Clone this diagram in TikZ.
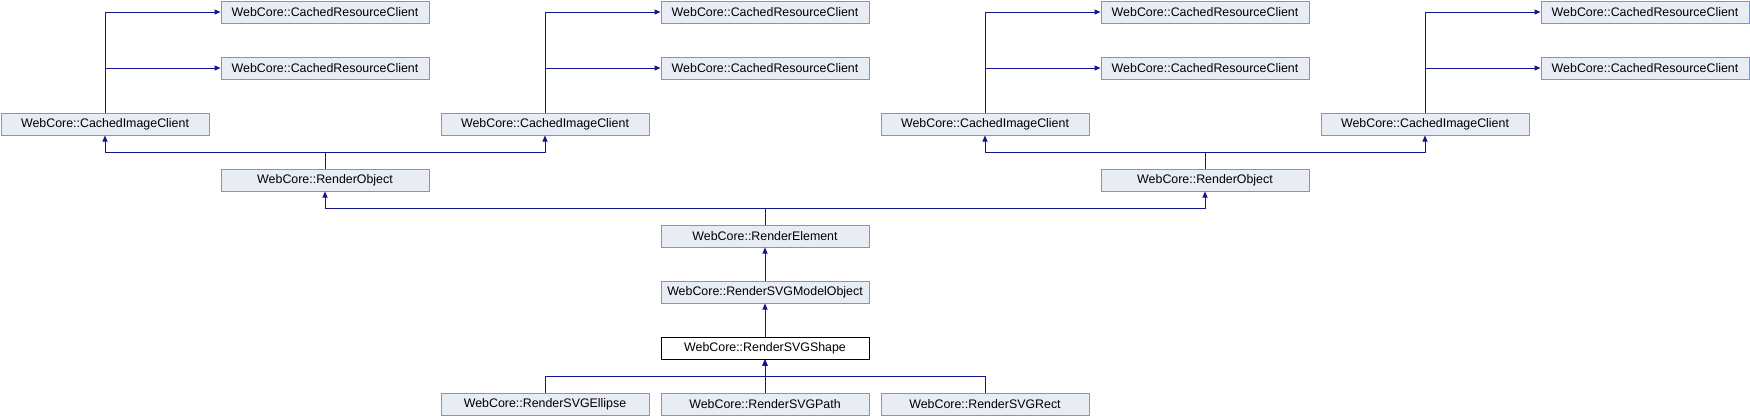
\documentclass[tikz,border=0pt]{standalone}
\usepackage{fontspec}
\setmainfont{Liberation Sans}
\usetikzlibrary{arrows.meta}
\definecolor{fillc}{HTML}{E8ECF4}
\definecolor{bordc}{HTML}{7C96CA}
\definecolor{edgec}{HTML}{14148C}
\tikzset{
  cls/.style={draw=bordc, fill=fillc, line width=1pt, minimum width=208pt, minimum height=22pt,
    inner sep=0pt, anchor=north west, font=\fontsize{12.4}{14}\selectfont},
  cur/.style={cls, draw=black, fill=white},
  edge/.style={draw=edgec, line width=1pt, -{Triangle[length=6pt,width=5pt]}}
}
\begin{document}
\begin{tikzpicture}[x=1pt,y=-1pt]
\useasboundingbox (0,0) rectangle (1750,416);
% row 0 and 1: CachedResourceClient
\node[cls] (crcA0) at (220.5,0.5) {WebCore::CachedResourceClient};
\node[cls] (crcA1) at (220.5,56.5) {WebCore::CachedResourceClient};
\node[cls] (crcB0) at (660.5,0.5) {WebCore::CachedResourceClient};
\node[cls] (crcB1) at (660.5,56.5) {WebCore::CachedResourceClient};
\node[cls] (crcC0) at (1100.5,0.5) {WebCore::CachedResourceClient};
\node[cls] (crcC1) at (1100.5,56.5) {WebCore::CachedResourceClient};
\node[cls] (crcD0) at (1540.5,0.5) {WebCore::CachedResourceClient};
\node[cls] (crcD1) at (1540.5,56.5) {WebCore::CachedResourceClient};
% row 2: CachedImageClient
\node[cls] (cicA) at (0.5,112.5) {WebCore::CachedImageClient};
\node[cls] (cicB) at (440.5,112.5) {WebCore::CachedImageClient};
\node[cls] (cicC) at (880.5,112.5) {WebCore::CachedImageClient};
\node[cls] (cicD) at (1320.5,112.5) {WebCore::CachedImageClient};
% row 3: RenderObject
\node[cls] (roA) at (220.5,168.5) {WebCore::RenderObject};
\node[cls] (roB) at (1100.5,168.5) {WebCore::RenderObject};
% rows 4..6
\node[cls] (re) at (660.5,224.5) {WebCore::RenderElement};
\node[cls] (rsmo) at (660.5,280.5) {WebCore::RenderSVGModelObject};
\node[cur] (rss) at (660.5,336.5) {WebCore::RenderSVGShape};
% row 7
\node[cls] (ell) at (440.5,392.5) {WebCore::RenderSVGEllipse};
\node[cls] (path) at (660.5,392.5) {WebCore::RenderSVGPath};
\node[cls] (rect) at (880.5,392.5) {WebCore::RenderSVGRect};
% CachedImageClient -> CachedResourceClient
\draw[edge] (cicA.north) |- (crcA0.west);
\draw[edge] (cicA.north) |- (crcA1.west);
\draw[edge] (cicB.north) |- (crcB0.west);
\draw[edge] (cicB.north) |- (crcB1.west);
\draw[edge] (cicC.north) |- (crcC0.west);
\draw[edge] (cicC.north) |- (crcC1.west);
\draw[edge] (cicD.north) |- (crcD0.west);
\draw[edge] (cicD.north) |- (crcD1.west);
% RenderObject -> CachedImageClient
\draw[edge] (roA.north) -- ++(0pt,16pt) -| (cicA.south);
\draw[edge] (roA.north) -- ++(0pt,16pt) -| (cicB.south);
\draw[edge] (roB.north) -- ++(0pt,16pt) -| (cicC.south);
\draw[edge] (roB.north) -- ++(0pt,16pt) -| (cicD.south);
% RenderElement -> RenderObject
\draw[edge] (re.north) -- ++(0pt,16pt) -| (roA.south);
\draw[edge] (re.north) -- ++(0pt,16pt) -| (roB.south);
% chain
\draw[edge] (rsmo.north) -- (re.south);
\draw[edge] (rss.north) -- (rsmo.south);
% leaves
\draw[edge] (ell.north) -- ++(0pt,16pt) -| (rss.south);
\draw[edge] (path.north) -- (rss.south);
\draw[edge] (rect.north) -- ++(0pt,16pt) -| (rss.south);
\end{tikzpicture}
\end{document}
